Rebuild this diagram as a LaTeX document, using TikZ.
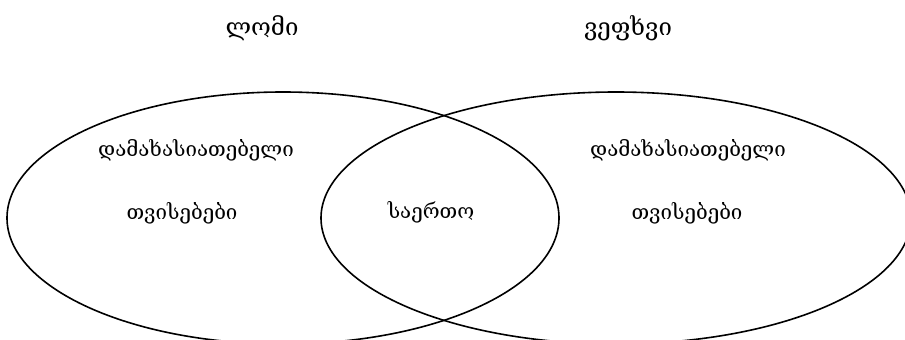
\documentclass[tikz,border=0pt]{standalone}
\usepackage{fontspec}
\setmainfont{DejaVu Serif}
\begin{document}
\begin{tikzpicture}[x=1pt, y=-1pt, line width=1.6pt,
    every node/.style={font=\fontsize{20.5}{24}\selectfont}]
    \useasboundingbox (0,0) rectangle (905,340);
    \clip (0,0) rectangle (905,340);
    % the two sets
    \draw (283,218) ellipse [x radius=276, y radius=126];
    \draw (616,218) ellipse [x radius=295, y radius=126];
    % titles
    \node[font=\fontsize{24}{28}\selectfont] (lion) at (262,28) {ლომი};
    \node[font=\fontsize{24}{28}\selectfont] (tiger) at (628,28) {ვეფხვი};
    % left part
    \node (lionA) at (196,150) {დამახასიათებელი};
    \node (lionB) at (182,213) {თვისებები};
    % common part
    \node (common) at (431,212) {საერთო};
    % right part
    \node (tigerA) at (688,150) {დამახასიათებელი};
    \node (tigerB) at (687,213) {თვისებები};
\end{tikzpicture}
\end{document}
